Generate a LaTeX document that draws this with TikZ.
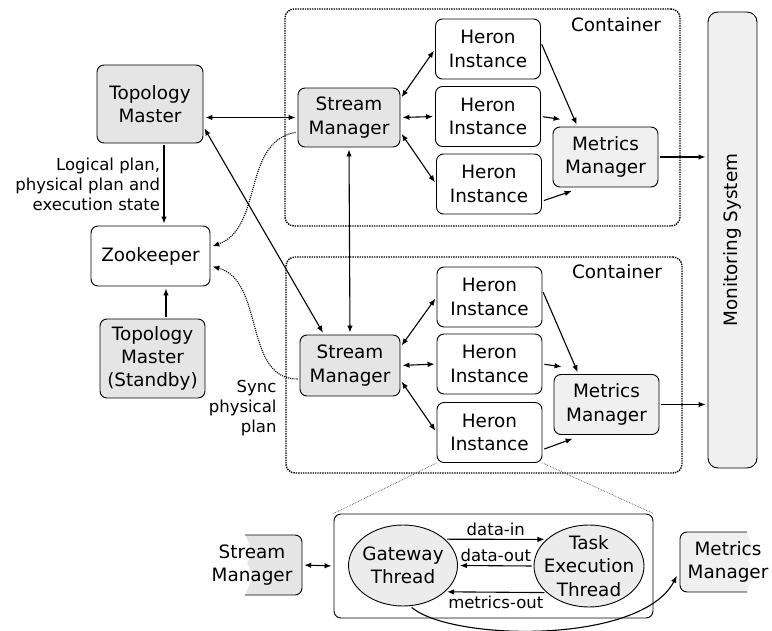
\documentclass[tikz,border=0pt]{standalone}
\usepackage{fontspec}
\setmainfont{DejaVu Sans}
\usetikzlibrary{arrows.meta, shapes.geometric}
\newcommand\boxfont{\fontsize{18.4pt}{23.3pt}\selectfont}
\newcommand\lblfont{\fontsize{16.5pt}{20pt}\selectfont}
\begin{document}
\begin{tikzpicture}[x=1pt, y=-1pt,
            box/.style={draw, rectangle, rounded corners=7pt, line width=0.9pt, minimum width=105pt, minimum height=60pt, align=center, font=\boxfont, inner sep=2pt},
            grey/.style={fill=gray!20},
            light/.style={fill=gray!12},
            thread/.style={draw, ellipse, line width=0.9pt, fill=gray!15, align=center, font=\boxfont, inner sep=-10pt},
            lbl/.style={font=\lblfont, align=right},
            cont/.style={draw, densely dotted, rounded corners=9pt, line width=1.4pt},
            link/.style={line width=1.1pt, >={Latex[length=7pt, width=5.5pt]}, shorten <=2pt, shorten >=2pt},
            sync/.style={line width=1.1pt, densely dotted, >={Latex[length=7pt, width=5.5pt]}, shorten <=2pt, shorten >=2pt}]

            \useasboundingbox (0,0) rectangle (772,631);

            \node[cont, minimum width=395pt, minimum height=217pt] (cont1) at (482.5,117.5) {};
            \node[cont, minimum width=396pt, minimum height=216pt] (cont2) at (484,365) {};
            \node[font=\boxfont] (c1lbl) at (616,25) {Container};
            \node[font=\boxfont] (c2lbl) at (617,272) {Container};

            \node[box, grey, minimum width=106pt, minimum height=78pt] (tm) at (150,104) {Topology\\Master};
            \node[box, minimum width=119pt] (zk) at (150.5,256) {Zookeeper};
            \node[box, grey, minimum width=105pt, minimum height=79pt] (tms) at (152.5,358.5) {Topology\\Master\\(Standby)};

            \node[box, grey, minimum width=102pt, minimum height=59pt] (sm1) at (349,117.5) {Stream\\Manager};
            \node[box] (h1) at (488,49) {Heron\\Instance};
            \node[box] (h2) at (488,116.5) {Heron\\Instance};
            \node[box] (h3) at (489,184) {Heron\\Instance};
            \node[box, light] (mm1) at (605.5,157) {Metrics\\Manager};

            \node[box, grey, minimum width=100pt, minimum height=61pt] (sm2) at (350,365.5) {Stream\\Manager};
            \node[box] (hb1) at (489.5,297) {Heron\\Instance};
            \node[box] (hb2) at (489.5,364) {Heron\\Instance};
            \node[box] (hb3) at (489.5,432.5) {Heron\\Instance};
            \node[box, light] (mm2) at (606.5,404.5) {Metrics\\Manager};

            \node[box, light, rotate=90, rounded corners=10pt, minimum width=456pt, minimum height=49pt] (mon) at (732.5,240) {Monitoring System};

            \draw[link, <->] (tm.east |- sm1.west) -- (sm1.west);
            \draw[link, <->] (tm.-23) -- ([xshift=-26pt]sm2.north);
            \draw[link, <->] (sm1.south) -- (sm2.north);
            \draw[link, ->] ([xshift=14pt]tm.south) -- ([xshift=14pt]tm.south |- zk.north)
                node[midway, left, lbl] (plan) {Logical plan,\\physical plan and\\execution state};
            \draw[link, ->] ([xshift=13.5pt]tms.north) -- ([xshift=13.5pt]tms.north |- zk.south);
            \draw[sync, ->] ([yshift=-14.5pt]sm1.west) to[out=190, in=20] ([yshift=9pt]zk.east);
            \draw[sync, ->] ([yshift=-13.5pt]sm2.west) to[out=180, in=-15] ([yshift=-10pt]zk.east);
            \node[lbl, anchor=east] (synclbl) at (280,408) {Sync\\physical\\plan};

            \draw[link, <->] (sm1.20) -- (h1.west);
            \draw[link, <->] (sm1.east) -- (h2.west);
            \draw[link, <->] (sm1.-16) -- (h3.west);
            \draw[link, ->] (h1.7) -- ([xshift=-28pt]mm1.north);
            \draw[link, ->] (h2.east) -- ([shift={(10pt,7pt)}]mm1.north west);
            \draw[link, ->] (h3.-18) -- ([shift={(-32pt,-3pt)}]mm1.south);
            \draw[link, ->] (mm1.east) -- (mm1.east -| mon.north);

            \draw[link, <->] (sm2.20) -- (hb1.west);
            \draw[link, <->] (sm2.east) -- (hb2.west);
            \draw[link, <->] (sm2.-16) -- (hb3.west);
            \draw[link, ->] (hb1.7) -- ([xshift=-28pt]mm2.north);
            \draw[link, ->] (hb2.east) -- ([shift={(10pt,7pt)}]mm2.north west);
            \draw[link, ->] (hb3.-18) -- ([shift={(-32pt,-3pt)}]mm2.south);
            \draw[link, ->] (mm2.east) -- (mm2.east -| mon.north);

            % zoomed heron instance
            \node[box, minimum width=319pt, minimum height=104pt] (inst) at (493.5,566) {};
            \draw[densely dotted, line width=0.7pt, gray!70!black] (hb3.south west) -- (inst.north west);
            \draw[densely dotted, line width=0.7pt, gray!70!black] (hb3.south east) -- (inst.north east);
            \node[thread, minimum width=109pt, minimum height=81pt] (gw) at (403,565.5) {Gateway\\Thread};
            \node[thread, minimum width=110pt, minimum height=82pt] (tk) at (589,566) {Task\\Execution\\Thread};

            \begin{scope}
                \clip (243,530) -- (310,530) -- (310,600) -- (243,600) -- (253,577) -- (247,563) -- (253,553) -- cycle;
                \draw[line width=0.9pt, rounded corners=7pt, fill=gray!20] (202,535) rectangle (302,595);
            \end{scope}
            \begin{scope}
                \clip (745,527) -- (670,527) -- (670,597) -- (745,597) -- (755,573) -- (748,560) -- (753,549) -- cycle;
                \draw[line width=0.9pt, rounded corners=7pt, fill=gray!12] (680,532) rectangle (780,592);
            \end{scope}
            \node[font=\boxfont, align=center, minimum width=100pt, minimum height=60pt] (smc) at (252,565) {Stream\\Manager};
            \node[font=\boxfont, align=center, minimum width=100pt, minimum height=60pt] (mmc) at (728,562) {Metrics\\Manager};

            \draw[link, <->] (smc.east) -- (inst.west);
            \draw[link, ->] (gw.32) -- (tk.148) node[midway, above, lbl] (din) {data-in};
            \draw[link, ->] (tk.west) -- (gw.east) node[midway, above, lbl] (dout) {data-out};
            \draw[link, ->] (tk.-148) -- (gw.-32) node[midway, below, lbl] (mout) {metrics-out};
            \draw[link, ->] (gw.-80) .. controls +(41,35) and +(-37,71) .. ([yshift=-12pt]mmc.west);
        \end{tikzpicture}
\end{document}
